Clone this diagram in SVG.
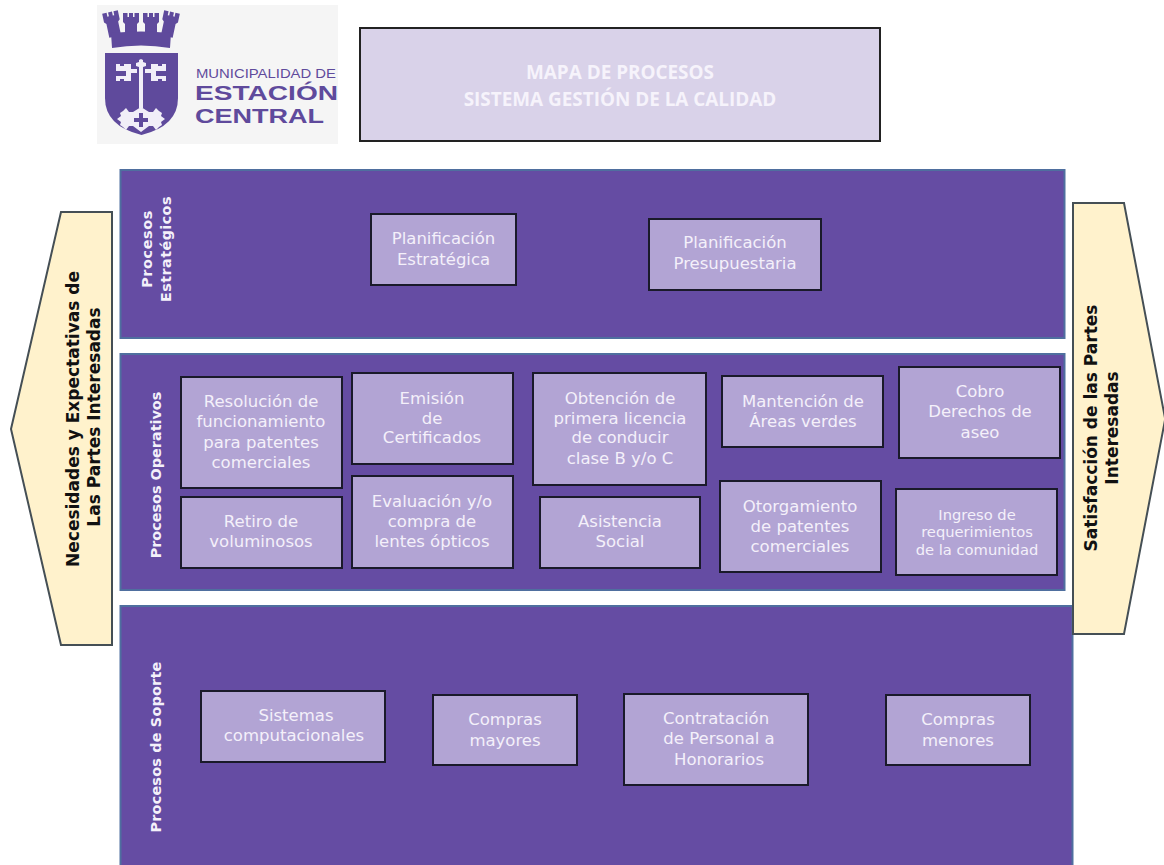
<svg xmlns="http://www.w3.org/2000/svg" width="1164" height="865" viewBox="0 0 1164 865">
<style>
.band{fill:#654ca3;stroke:#4f6f9f;stroke-width:2}
.box{fill:#b2a4d4;stroke:#1a1a2a;stroke-width:2}
.t{font-family:"DejaVu Sans",Verdana,sans-serif;font-size:16.5px;fill:#f4f0fa;text-anchor:middle}
.s{font-size:14.7px}
.v{font-family:"DejaVu Sans",Verdana,sans-serif;font-size:14.4px;font-weight:bold;fill:#f4f0fa;text-anchor:middle}
.side{fill:#fff2cc;stroke:#454f55;stroke-width:2}
.h{font-family:"DejaVu Sans",Verdana,sans-serif;font-size:17px;font-weight:bold;fill:#111;text-anchor:middle}
.lg{font-family:"Liberation Sans",Arial,sans-serif;fill:#5f4a9c}
.ttl{font-family:"Open Sans","DejaVu Sans",sans-serif;font-size:18.9px;font-weight:bold;fill:#f6f3fb;text-anchor:middle}
</style>
<defs>
<path id="tower" d="M-8 13h4.500v4h1.500v-4h4v4h1.500v-4h4.500v9l-2 2v14h-12v-14l-2-2z" fill="#5f4a9c"/>
</defs>
<rect width="1164" height="865" fill="#fff"/>
<g id="logo">
<rect x="97" y="5" width="241" height="139" fill="#f5f5f5"/>
<use href="#tower" x="131" y="0"/>
<use href="#tower" x="151" y="0"/>
<use href="#tower" transform="translate(110 -1) rotate(-12 0 13)"/>
<use href="#tower" transform="translate(172 -1) rotate(12 0 13)"/>
<path d="M111 33q30-3 60 0l-1 15q-29-5-58 0z" fill="#5f4a9c"/>
<path d="M105 53h73v45q0 28-36.500 37q-36.500-9-36.500-37z" fill="#5f4a9c"/>
<path d="M139 72v-5l-3-1 0-3 3-1 0-2 2-1 2 1 0 2 3 1 0 3-3 1v5h-0v36h-4z" fill="#f1eef8"/>
<path d="M116 64h4v2h4v-2h7v5h6v4h-6v8h-7v-2h-4v2h-4v-5h10v-5h-10z" fill="#f1eef8"/>
<path d="M166 64h-4v2h-4v-2h-7v5h-6v4h6v8h7v-2h4v2h4v-5h-10v-5h10z" fill="#f1eef8"/>
<path d="M141 107l8 5 4 0 3-4 3 3 3 2-1 3 4 3-4 3 1 3-3 2-3 3-3-4-4 0-8 6-8-6-4 0-3 4-3-3-3-2 1-3-4-3 4-3-1-3 3-2 3-3 3 4 4 0z" fill="#f1eef8"/>
<path d="M139 113h4v5h5v4h-5v5h-4v-5h-5v-4h5z" fill="#5f4a9c"/>
<text class="lg" x="196" y="78" font-size="12.500" textLength="140" lengthAdjust="spacingAndGlyphs">MUNICIPALIDAD DE</text>
<text class="lg" x="195" y="100" font-size="21" font-weight="bold" textLength="143" lengthAdjust="spacingAndGlyphs">ESTACIÓN</text>
<text class="lg" x="195" y="123" font-size="21" font-weight="bold" textLength="129" lengthAdjust="spacingAndGlyphs">CENTRAL</text>
</g>
<g id="title">
<rect x="360" y="28" width="520" height="113" fill="#d9d2e9" stroke="#222" stroke-width="2"/>
<text class="ttl" x="620" y="79">MAPA DE PROCESOS</text>
<text class="ttl" x="620" y="106">SISTEMA GESTIÓN DE LA CALIDAD</text>
</g>
<g id="band-estrategicos">
<rect class="band" x="120.500" y="170" width="944" height="168"/>
<text class="v" transform="translate(152 249) rotate(-90)" style="letter-spacing:.6px">Procesos</text>
<text class="v" transform="translate(171 249) rotate(-90)" style="letter-spacing:.4px">Estratégicos</text>
</g>
<g id="band-operativos">
<rect class="band" x="120.500" y="354" width="944" height="236"/>
<text class="v" transform="translate(161 475) rotate(-90)">Procesos Operativos</text>
</g>
<g id="band-soporte">
<rect class="band" x="120.500" y="606" width="952" height="262"/>
<text class="v" transform="translate(161 747) rotate(-90)" style="letter-spacing:.2px">Procesos de Soporte</text>
</g>
<g id="necesidades">
<path class="side" d="M112 212H61L11 429l50 216h51z"/>
<text class="h" transform="translate(79 419) rotate(-90)">Necesidades y Expectativas de</text>
<text class="h" transform="translate(100 417) rotate(-90)">Las Partes Interesadas</text>
</g>
<g id="satisfaccion">
<path class="side" d="M1073 203h51l41 215v2l-41 214h-51z"/>
<text class="h" transform="translate(1097 428) rotate(-90)">Satisfacción de las Partes</text>
<text class="h" transform="translate(1118 428) rotate(-90)">Interesadas</text>
</g>
<g id="n1"><rect class="box" x="371" y="214" width="145" height="71"/><text class="t" x="443.500" y="244">Planificación</text><text class="t" x="443.500" y="265">Estratégica</text></g>
<g id="n2"><rect class="box" x="649" y="219" width="172" height="71"/><text class="t" x="735" y="248">Planificación</text><text class="t" x="735" y="269">Presupuestaria</text></g>
<g id="n3"><rect class="box" x="181" y="377" width="161" height="111"/><text class="t" x="261" y="407">Resolución de</text><text class="t" x="261" y="427">funcionamiento</text><text class="t" x="261" y="448">para patentes</text><text class="t" x="261" y="468">comerciales</text></g>
<g id="n4"><rect class="box" x="352" y="373" width="161" height="91"/><text class="t" x="432" y="404">Emisión</text><text class="t" x="432" y="424">de</text><text class="t" x="432" y="443">Certificados</text></g>
<g id="n5"><rect class="box" x="533" y="373" width="173" height="112"/><text class="t" x="620" y="404">Obtención de</text><text class="t" x="620" y="424">primera licencia</text><text class="t" x="620" y="443">de conducir</text><text class="t" x="620" y="464">clase B y/o C</text></g>
<g id="n6"><rect class="box" x="722" y="376" width="161" height="71"/><text class="t" x="803" y="407">Mantención de</text><text class="t" x="803" y="427">Áreas verdes</text></g>
<g id="n7"><rect class="box" x="899" y="367" width="161" height="91"/><text class="t" x="980" y="397">Cobro</text><text class="t" x="980" y="417">Derechos de</text><text class="t" x="980" y="438">aseo</text></g>
<g id="n8"><rect class="box" x="181" y="497" width="161" height="71"/><text class="t" x="261" y="527">Retiro de</text><text class="t" x="261" y="547">voluminosos</text></g>
<g id="n9"><rect class="box" x="352" y="476" width="161" height="92"/><text class="t" x="432" y="507">Evaluación y/o</text><text class="t" x="432" y="527">compra de</text><text class="t" x="432" y="547">lentes ópticos</text></g>
<g id="n10"><rect class="box" x="540" y="497" width="160" height="71"/><text class="t" x="620" y="527">Asistencia</text><text class="t" x="620" y="547">Social</text></g>
<g id="n11"><rect class="box" x="720" y="481" width="161" height="91"/><text class="t" x="800" y="512">Otorgamiento</text><text class="t" x="800" y="532">de patentes</text><text class="t" x="800" y="552">comerciales</text></g>
<g id="n12"><rect class="box" x="896" y="489" width="161" height="86"/><text class="t s" x="977" y="520">Ingreso de</text><text class="t s" x="977" y="537">requerimientos</text><text class="t s" x="977" y="555">de la comunidad</text></g>
<g id="n13"><rect class="box" x="201" y="691" width="184" height="71"/><text class="t" x="296" y="721">Sistemas</text><text class="t" x="294" y="741">computacionales</text></g>
<g id="n14"><rect class="box" x="433" y="695" width="144" height="70"/><text class="t" x="505" y="725">Compras</text><text class="t" x="505" y="746">mayores</text></g>
<g id="n15"><rect class="box" x="624" y="694" width="184" height="91"/><text class="t" x="716" y="724">Contratación</text><text class="t" x="719" y="744">de Personal a</text><text class="t" x="719" y="765">Honorarios</text></g>
<g id="n16"><rect class="box" x="886" y="695" width="144" height="70"/><text class="t" x="958" y="725">Compras</text><text class="t" x="958" y="746">menores</text></g>
<g id="connectors"></g>
</svg>
